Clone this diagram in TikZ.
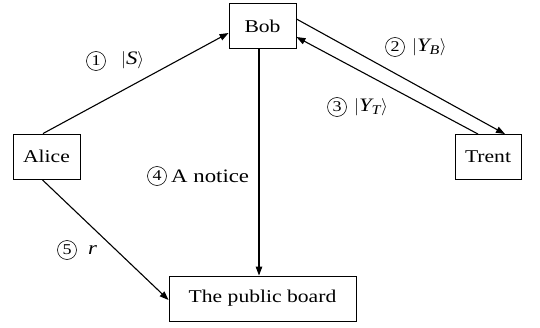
\documentclass[tikz,border=0pt]{standalone}
\usepackage{amsmath}
\usepackage{fontspec}
\setmainfont{Liberation Serif}[FakeStretch=1.2]
\usetikzlibrary{arrows.meta}
\begin{document}
\begin{tikzpicture}[x=1pt,y=1pt,
  party/.style={draw,line width=0.9pt,minimum height=45pt,inner sep=0pt,font=\fontsize{18}{20}\selectfont},
  flow/.style={line width=1.1pt,-{Triangle[length=9pt,width=6.5pt]}},
  step num/.style={draw,circle,line width=0.6pt,minimum size=19pt,inner sep=0pt,font=\fontsize{15}{15}\selectfont},
  lbl/.style={font=\fontsize{19}{22}\selectfont,inner sep=0pt,anchor=west}]
\useasboundingbox (0,0) rectangle (540,327);
% participants
\node[party,minimum width=67pt] (bob)   at (262.5,301) {Bob};
\node[party,minimum width=67pt] (alice) at (46.5,170.5) {Alice};
\node[party,minimum width=66pt] (trent) at (488,170) {Trent};
\node[party,minimum width=187pt] (board) at (262.5,28.5) {The public board};
% messages
\draw[flow] ([xshift=-3.5pt]alice.north) -- ([yshift=-7pt]bob.west);
\draw[flow] ([yshift=7pt]bob.east) -- ([xshift=17pt]trent.north);
\draw[flow] ([xshift=-10pt]trent.north) -- ([yshift=-11pt]bob.east);
\draw[flow] ([xshift=-3.5pt]bob.south) -- ([xshift=-3.5pt]board.north);
\draw[flow] ([xshift=-4.5pt]alice.south) -- ([yshift=-1.5pt]board.west);
% step numbers and message labels
\node[step num] (c1) at (96,266) {1};
\node[lbl] (l1) at (121,267) {$|\textit{S}\rangle$};
\node[step num] (c2) at (395,280) {2};
\node[lbl] (l2) at (412,280) {$\left|\textit{Y}_{\textit{B}}\right\rangle$};
\node[step num] (c3) at (337,220) {3};
\node[lbl] (l3) at (354,220) {$\left|\textit{Y}_{\textit{T}}\right\rangle$};
\node[step num] (c4) at (157,151) {4};
\node[lbl] (l4) at (171,151) {A notice};
\node[step num] (c5) at (67,77) {5};
\node[lbl] (l5) at (88,77) {\textit{r}};
\end{tikzpicture}
\end{document}
